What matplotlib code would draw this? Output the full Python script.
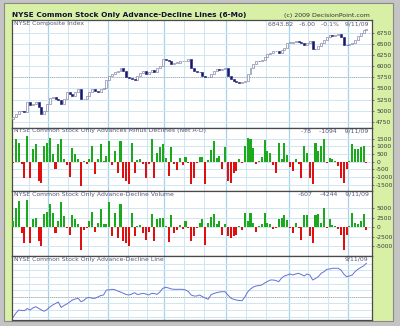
"""NYSE common-stock-only advance-decline panels (6 months to 9/11/09)."""
import matplotlib
import numpy as np
import pandas as pd

matplotlib.use("Agg")
from matplotlib import pyplot as plt
from matplotlib.patches import Rectangle

# ---- data ------------------------------------------------------------------
closes = [
    4850, 4930, 5000, 4990, 4970, 5190, 5120, 5160, 5190, 5080,
    4930, 5000, 5150, 5280, 5300, 5260, 5230, 5150, 5260, 5410,
    5380, 5340, 5410, 5490, 5260, 5260, 5340, 5410, 5490, 5450,
    5410, 5480, 5520, 5700, 5780, 5820, 5860, 5890, 5970, 5900,
    5750, 5740, 5710, 5700, 5790, 5850, 5900, 5820, 5860, 5910,
    5870, 5970, 6010, 6160, 6150, 6110, 6040, 6080, 6080, 6110,
    6120, 6110, 6160, 5970, 5900, 5880, 5860, 5780, 5750, 5750,
    5820, 5900, 5930, 5920, 5940, 5970, 5790, 5710, 5670, 5640,
    5630, 5640, 5670, 5820, 5960, 6040, 6120, 6110, 6150, 6200,
    6270, 6300, 6340, 6350, 6300, 6370, 6420, 6530, 6530, 6550,
    6560, 6550, 6520, 6490, 6530, 6560, 6400, 6380, 6450, 6530,
    6600, 6650, 6710, 6680, 6710, 6720, 6670, 6490, 6480, 6500,
    6530, 6600, 6680, 6750, 6810, 6843.82,
]
first_open = 4800

net_ad = [
    -60, 1450, 1240, -170, -1040, 1670, -1040, 850, 1130, -1250,
    -1360, 1020, 1240, 1520, 480, -500, 1130, 1450, 150, -200,
    -970, 910, 480, 150, -1580, 60, -120, 150, 1020, -820,
    150, 1130, 60, 370, 1350, -240, 700, -710, 1350, -1040,
    -1250, -1470, 1200, -710, 100, 200, -170, -1040, -170, 1500,
    -1040, 590, 980, 1130, 220, -930, 980, -170, -540, 260,
    -240, 320, -100, -1470, -1040, -100, 320, 320, -1470, 100,
    760, 1350, 260, 370, -450, 980, -1260, -1360, -710, -600,
    200, -100, 1020, 1560, 1450, 910, -170, 60, 320, 1410,
    700, 540, -240, -710, 1240, 200, 1240, 410, -320, -600,
    150, -170, -1040, 1020, 590, -1080, -1470, 1190, 700, 1020,
    1500, -100, 260, 150, 60, -280, -1040, -1400, -500, 50,
    1130, 800, 850, 980, 1020, -78,
]

ad_volume = [
    1650, 5200, 6970, -1450, -4100, 7240, -4100, 2270, 2540, -3670,
    -5000, 3420, 4050, 6090, 3690, -1450, 1650, 6530, 2980, -300,
    -1900, 3160, 2100, 760, -6070, -750, -300, 1650, 4050, -1280,
    1210, 4750, 760, 940, 6530, -2340, 3870, -2780, 6090, -3670,
    -4100, -5000, 3690, -2340, 300, 500, -1450, -3230, -1280, 3420,
    -3670, 2270, 2540, 2540, 300, -3900, 3160, -1450, -750, 500,
    -560, 1650, -300, -3670, -2340, -300, 1210, 2100, -4540, 1210,
    2800, 3420, 760, 1650, -1900, 760, -2340, -2780, -2340, -1900,
    300, -750, 3690, 1650, 3690, 1210, -1280, 300, 760, 3690,
    1210, 760, -560, -300, 2270, 2540, 3160, 1900, -300, -1450,
    1210, -300, -3230, 3160, 3160, -2340, -4100, 3160, 3420, 1210,
    5200, -300, 2100, 500, 300, -560, -1900, -5900, -1900, 300,
    3690, 1210, 760, 1650, 3420, -607,
]

# cumulative A-D line, arbitrary units (no scale printed on the chart)
ad_line = [
    2.7, 7, 10, 9.5, 9.3, 11.5, 10, 12, 13.3, 11.7,
    10, 8.8, 10.5, 13, 15, 16.5, 18, 12.5, 14.5, 16,
    18, 20, 21, 21.7, 18.3, 19.5, 22, 22.5, 21.7, 21.7,
    23, 24.5, 25, 30, 30, 30.7, 30.3, 29, 28, 26.7,
    25.5, 25, 26, 27.3, 25.5, 26, 26.7, 26, 25, 26.7,
    26.3, 25.7, 28.3, 31.7, 32.7, 32, 31, 30.7, 30.7, 30.7,
    30.7, 30, 28.5, 25, 24, 24, 25, 23.3, 22, 20.7,
    25, 26.5, 27.3, 28, 28.3, 28.3, 25, 22, 20.7, 20,
    19.5, 19.3, 23, 28, 31, 33, 34, 34.5, 35, 37,
    38.5, 40, 40, 39.5, 38.3, 42, 44, 45, 46, 45,
    46, 46.7, 45.5, 44, 46, 45, 40, 41.5, 43.3, 46.7,
    48.3, 50.7, 51, 51.7, 51.7, 51.7, 50, 46, 43.3, 44,
    45, 48.3, 50.7, 52.5, 54, 56.7,
]

price_ticks = [4750, 5000, 5250, 5500, 5750, 6000, 6250, 6500, 6750]
net_ticks = [-1500, -1000, -500, 0, 500, 1000, 1500]
vol_ticks = [-5000, -2500, 0, 2500, 5000]

title = "NYSE Common Stock Only Advance-Decline Lines (6-Mo)"
credit = "(c) 2009 DecisionPoint.com"
panel_labels = [
    "NYSE Composite Index",
    "NYSE Common Stock Only Advances Minus Declines (Net A-D)",
    "NYSE Common Stock Only Advance-Decline Volume",
    "NYSE Common Stock Only Advance-Decline Line",
]
panel_stats = [
    "6843.82   -6.00   -0.1%   9/11/09",
    "-78    -1094    9/11/09",
    "-607    -4244    9/11/09",
    "9/11/09",
]
holidays = ["2009-04-10", "2009-05-25", "2009-07-03", "2009-09-07"]

# ---- styling ----------------------------------------------------------------
BG_GREEN = "#d8f0a6"
GRID = "#cfe7f3"
MONTH = "#a6d2e8"
FRAME = "#4a4a4a"
LABEL = "#55557a"
UP_GREEN = "#1caa1c"
DOWN_RED = "#e01010"
NAVY = "#16166e"

plt.rcParams["font.family"] = ["DejaVu Sans"]
plt.rcParams["axes.unicode_minus"] = False

W, H = 400, 326
fig = plt.figure(figsize=(W / 100, H / 100), dpi=100)
fig.patch.set_facecolor("#c4c4c4")
fig.add_artist(Rectangle((4 / W, 1 - 321 / H), 389 / W, 318 / H, transform=fig.transFigure,
                         facecolor=BG_GREEN, edgecolor="#8a8a8a", linewidth=0.8, zorder=-10))


def panel(top_px, bottom_px):
    ax = fig.add_axes([12 / W, 1 - bottom_px / H, 360 / W, (bottom_px - top_px) / H])
    ax.set_facecolor("white")
    for sp in ax.spines.values():
        sp.set_color(FRAME)
        sp.set_linewidth(0.9)
    return ax


x = np.arange(len(closes))
dates = pd.bdate_range("2009-03-13", "2009-09-11", freq="C", holidays=holidays)
month_idx = [i for i in range(1, len(dates)) if dates[i].month != dates[i - 1].month]
minor_idx = [month_idx[0] - 7]
for m in month_idx:
    minor_idx += [m + 7, m + 14]
minor_idx = [m for m in minor_idx if 0 < m < len(closes)]

axes = [panel(19.5, 127.5), panel(127.5, 191), panel(191, 255.7), panel(255.7, 320)]
for ax, label, stats in zip(axes, panel_labels, panel_stats):
    ax.set_xlim(-0.4, len(closes) + 1)
    for m in minor_idx:
        ax.axvline(m - 0.5, color=GRID, linewidth=0.7, zorder=0)
    for m in month_idx:
        ax.axvline(m - 0.5, color=MONTH, linewidth=0.9, zorder=0)
    ax.set_xticks([])
    ax.yaxis.tick_right()
    ax.tick_params(axis="y", length=1.5, width=0.5, pad=1.5, labelsize=4.3,
                   labelcolor="#3a3a3a", color=FRAME)
    ax.grid(axis="y", color=GRID, linewidth=0.7, zorder=0)
    ax.set_axisbelow(True)
    ax.text(0.006, 0.985, label, transform=ax.transAxes, ha="left", va="top",
            fontsize=4.4, color=LABEL, zorder=5)
    ax.text(0.99, 0.985, stats, transform=ax.transAxes, ha="right", va="top",
            fontsize=4.4, color=LABEL, zorder=5)

# price candles (open = prior close)
ax = axes[0]
opens = np.array([first_open] + closes[:-1], dtype=float)
cl = np.array(closes, dtype=float)
up = cl >= opens
body_lo = np.minimum(opens, cl)
body_h = np.maximum(np.abs(cl - opens), 8)
ax.bar(x[up], body_h[up], bottom=body_lo[up], width=0.7, facecolor="white",
       edgecolor="#6a6a96", linewidth=0.4, zorder=3)
ax.bar(x[~up], body_h[~up], bottom=body_lo[~up], width=0.7, facecolor=NAVY,
       edgecolor=NAVY, linewidth=0.4, zorder=3)
ax.axhline(5760, color="#9a9a9a", linewidth=0.6, linestyle=(0, (1, 1.5)), zorder=1)
ax.set_ylim(4619, 7054)
ax.set_yticks(price_ticks)

# net advances minus declines
ax = axes[1]
net = np.array(net_ad, dtype=float)
ax.bar(x, net, width=0.72, color=np.where(net >= 0, UP_GREEN, DOWN_RED), linewidth=0, zorder=3)
ax.set_ylim(-1910, 2230)
ax.set_yticks(net_ticks)

# advance-decline volume
ax = axes[2]
vol = np.array(ad_volume, dtype=float)
ax.bar(x, vol, width=0.72, color=np.where(vol >= 0, UP_GREEN, DOWN_RED), linewidth=0, zorder=3)
ax.set_ylim(-7470, 9550)
ax.set_yticks(vol_ticks)

# advance-decline line
ax = axes[3]
ax.plot(x, ad_line, color="#6470d2", linewidth=0.7, zorder=3)
ax.axhline(23.3, color="#9a9a9a", linewidth=0.6, linestyle=(0, (1, 1.5)), zorder=1)
ax.set_ylim(0, 64.3)
ax.set_yticks(np.arange(3.5, 60, 6.6))
ax.tick_params(axis="y", labelright=False, length=0)

fig.text(12 / W, 1 - 15 / H, title, ha="left", va="center", fontsize=5.3,
         fontweight="bold", color="#101030")
fig.text(370 / W, 1 - 15 / H, credit, ha="right", va="center", fontsize=4.5, color="#303030")

fig.savefig("out.png", dpi=100, facecolor=fig.get_facecolor())
plt.close(fig)
